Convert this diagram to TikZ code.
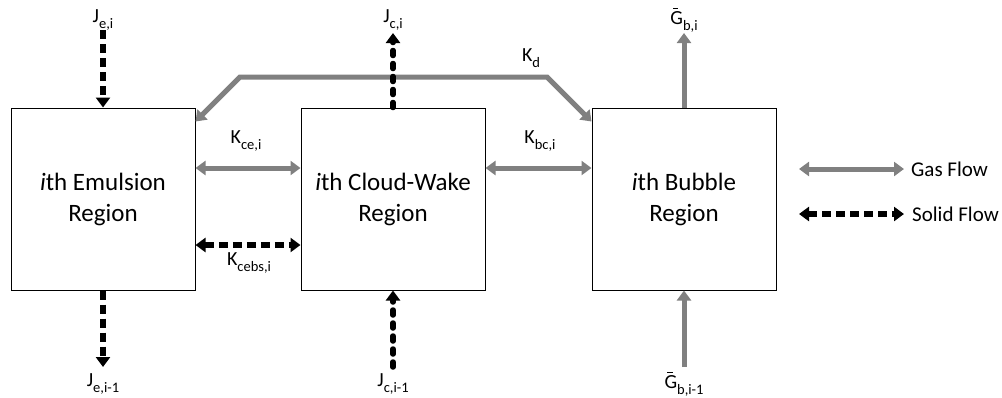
\documentclass[tikz,border=0pt]{standalone}
\usepackage{fontspec}
\setmainfont{Carlito}
\usetikzlibrary{arrows.meta}
\definecolor{flowgray}{HTML}{808080}
\newcommand\lab[2]{#1\raisebox{-0.3em}{\fontsize{14.5}{14.5}\selectfont #2}}
\newcommand\Gbarsym{\leavevmode\rlap{\kern0.14em\rule[0.74em]{0.26em}{0.06em}}G}
\begin{document}
\begin{tikzpicture}[x=1pt,y=-1pt,
  region/.style={draw=black,line width=1pt,minimum width=184pt,minimum height=182pt,
    inner sep=0pt,align=center,font=\fontsize{25}{31}\selectfont},
  gasflow/.style={draw=flowgray,line width=5pt,-{Triangle[width=14pt,length=10pt]}},
  gasboth/.style={draw=flowgray,line width=5pt,{Triangle[width=14pt,length=10pt]}-{Triangle[width=14pt,length=10pt]}},
  solidflow/.style={draw=black,line width=5.5pt,dash pattern=on 9pt off 5pt,-{Triangle[width=14pt,length=10pt]}},
  solidround/.style={draw=black,line width=5.5pt,line cap=round,dash pattern=on 5pt off 8pt,-{Triangle[width=14pt,length=10pt]}},
  solidboth/.style={draw=black,line width=5.5pt,dash pattern=on 9pt off 5pt,{Triangle[width=14pt,length=10pt]}-{Triangle[width=14pt,length=10pt]}},
  flowlabel/.style={font=\fontsize{20}{20}\selectfont,inner sep=0pt},
  legendtext/.style={font=\fontsize{21}{21}\selectfont,inner sep=0pt,anchor=west}]
\useasboundingbox (0,0) rectangle (1002,397);

% regions
\node[region] (em) at (103,199) {\textit{i}th Emulsion\\Region};
\node[region] (cw) at (393,199) {\textit{i}th Cloud-Wake\\Region};
\node[region] (bb) at (684,199) {\textit{i}th Bubble\\Region};

% labels
\node[flowlabel] (lJei) at (103,20) {\lab{J}{e,i}};
\node[flowlabel] (lJci) at (393,20) {\lab{J}{c,i}};
\node[flowlabel] (lGbi) at (684,20) {\lab{\Gbarsym}{b,i}};
\node[flowlabel] (lJei1) at (103,384) {\lab{J}{e,i-1}};
\node[flowlabel] (lJci1) at (393,384) {\lab{J}{c,i-1}};
\node[flowlabel] (lGbi1) at (684,384) {\lab{\Gbarsym}{b,i-1}};
\node[flowlabel] (lKce) at (246,141) {\lab{K}{ce,i}};
\node[flowlabel] (lKcebs) at (249,263) {\lab{K}{cebs,i}};
\node[flowlabel] (lKbc) at (540,141) {\lab{K}{bc,i}};
\node[flowlabel] (lKd) at (531,58) {\lab{K}{d}};

% free ends
\coordinate (jeiTop) at (103,30);
\coordinate (jciTop) at (393,33);
\coordinate (gbiTop) at (684,33);
\coordinate (jei1Bot) at (103,367);
\coordinate (jci1Bot) at (393,367);
\coordinate (gbi1Bot) at (684,367);
\coordinate (kdL) at (240,77);
\coordinate (kdR) at (547,77);

% Kd bypass
\draw[gasboth,line join=miter] ([yshift=-14pt]em.north east) -- (kdL) -- (kdR) -- ([yshift=-14pt]bb.north west);

% exchange between regions
\draw[gasboth] ([yshift=31pt]em.east) -- ([yshift=31pt]cw.west);
\draw[gasboth] ([yshift=31pt]cw.east) -- ([yshift=31pt]bb.west);
\draw[solidboth] ([yshift=-46pt]em.east) -- ([yshift=-46pt]cw.west);

% vertical flows
\draw[solidflow] (jeiTop) -- (em.north);
\draw[solidflow] (em.south) -- (jei1Bot);
\draw[solidround] (cw.north) -- (jciTop);
\draw[solidround] (jci1Bot) -- (cw.south);
\draw[gasflow] (bb.north) -- (gbiTop);
\draw[gasflow] (gbi1Bot) -- (bb.south);

% legend
\coordinate (gasL) at (799,169);
\coordinate (gasR) at (904,169);
\coordinate (solL) at (799,214);
\coordinate (solR) at (904,214);
\draw[gasboth] (gasL) -- (gasR);
\draw[solidboth] (solL) -- (solR);
\node[legendtext] (tGas) at ([xshift=7pt]gasR) {Gas Flow};
\node[legendtext] (tSol) at ([xshift=8pt]solR) {Solid Flow};
\end{tikzpicture}
\end{document}
